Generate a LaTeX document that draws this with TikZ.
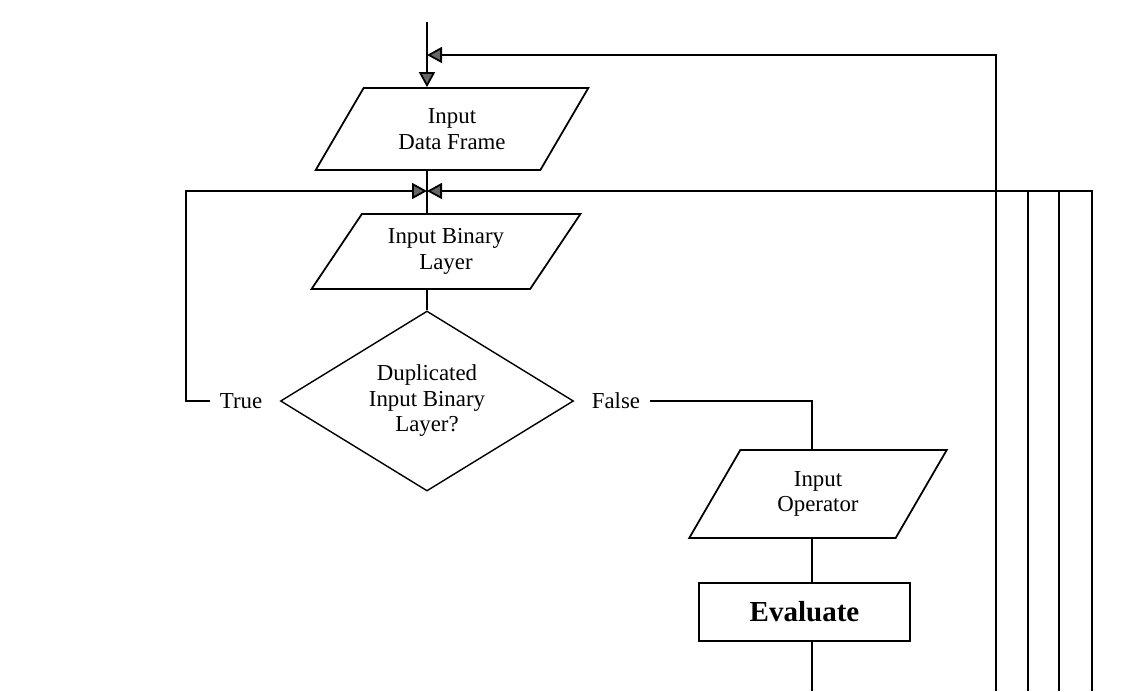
\documentclass[tikz,border=0pt]{standalone}
\usepackage{fontspec}
\setmainfont{Liberation Serif}
\usetikzlibrary{shapes.geometric, arrows.meta}

\tikzset{
  io/.style={draw, trapezium, trapezium left angle=57, trapezium right angle=123,
    trapezium stretches=true, align=center, inner sep=2pt},
  proc/.style={draw, rectangle, minimum width=4.22cm, minimum height=1.16cm,
    font=\fontsize{16.5}{18}\selectfont\bfseries},
  decide/.style={draw, diamond, aspect=1.63, inner sep=0pt, line width=0.8pt,
    minimum width=5.86cm, minimum height=3.6cm, align=center},
  lbl/.style={inner sep=5pt},
  flow/.style={-{Triangle[length=0.3cm, width=0.32cm, fill=black!60]}},
}

\begin{document}
\begin{tikzpicture}[line width=1pt, font=\fontsize{13}{14.5}\selectfont]
  \useasboundingbox (0,0) rectangle (22.94,-13.82);

  % turning points of the main line
  \coordinate (start) at (8.54,-0.44);
  \coordinate (back) at (8.54,-1.1);
  \coordinate (join) at (8.54,-3.82);
  \coordinate (bot) at (0,-13.82);
  \coordinate (tturn) at (3.72,-8.02);
  \coordinate (fturn) at (16.24,-8.02);

  \node[io, minimum width=5.5cm, minimum height=1.64cm] (frame) at (9.04,-2.58) {Input\\Data Frame};
  \node[io, minimum width=5.38cm, minimum height=1.5cm,
    trapezium left angle=55, trapezium right angle=125] (layer) at (8.92,-5.03) {Input Binary\\Layer};
  \node[decide] (dup) at (8.54,-8.02) {Duplicated\\Input Binary\\Layer?};
  \node[lbl] (true) at (4.82,-8.02) {True};
  \node[lbl] (false) at (12.32,-8.02) {False};
  \node[io, minimum width=5.16cm, minimum height=1.76cm,
    trapezium left angle=61, trapezium right angle=119] (oper) at (16.36,-9.88) {Input\\Operator};
  \node[proc] (eval) at (16.09,-12.24) {Evaluate};

  \draw[flow] (start) -- (frame.north -| start);
  \draw (frame.south -| start) -- (layer.north -| start);
  \draw (layer.south -| start) -- (dup.north);

  % true: back to the layer input
  \draw[flow] (true.west) -- (tturn) |- (join);

  % false: on to the operator
  \draw (false.east) -- (fturn) -- (oper.north -| fturn);
  \draw (oper.south -| fturn) -- (eval.north -| fturn);
  \draw (eval.south -| fturn) -- (bot -| fturn);

  % return lines on the right
  \coordinate (r1) at (19.92,-13.82);
  \coordinate (r2) at (20.56,-13.82);
  \coordinate (r3) at (21.18,-13.82);
  \coordinate (r4) at (21.84,-13.82);
  \draw[flow] (r1) |- (back);
  \draw (r2) -- (r2 |- join);
  \draw (r3) -- (r3 |- join);
  \draw[flow] (r4) |- (join);

\end{tikzpicture}
\end{document}
